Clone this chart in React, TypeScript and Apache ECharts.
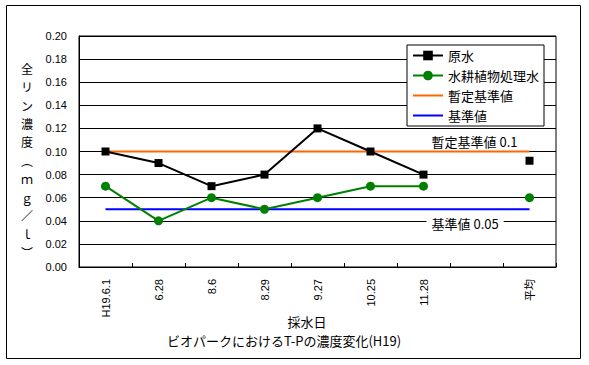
import React, { useEffect, useRef } from "react";
import * as echarts from "echarts";

const categories = ["H19.6.1", "6.28", "8.6", "8.29", "9.27", "10.25", "11.28", "", "平均"];
const rawWater = [0.10, 0.09, 0.07, 0.08, 0.12, 0.10, 0.08, null, 0.092];
const treatedWater = [0.07, 0.04, 0.06, 0.05, 0.06, 0.07, 0.07, null, 0.06];
const provisionalStd = [0.1, 0.1, 0.1, 0.1, 0.1, 0.1, 0.1, 0.1, 0.1];
const standard = [0.05, 0.05, 0.05, 0.05, 0.05, 0.05, 0.05, 0.05, 0.05];
const yTicks = { min: 0, max: 0.2, interval: 0.02 };
const seriesNames = ["原水", "水耕植物処理水", "暫定基準値", "基準値"];
const provisionalLabel = "暫定基準値 0.1";
const standardLabel = "基準値 0.05";
const labelIndex = 7;
const yNameChars = ["全", "リ", "ン", "濃", "度", "︵", "ｍ", "ｇ", "／", "ｌ", "︶"];
const xAxisTitle = "採水日";
const chartTitle = "ビオパークにおけるT-Pの濃度変化(H19)";

const FONT = "'Liberation Sans', 'Noto Sans CJK JP', sans-serif";
const JFONT = "'Noto Sans CJK JP', sans-serif";
const LINE_ICON = "path://M0,0L30,0L30,2L0,2Z";

export default function App() {
  const ref = useRef<HTMLDivElement>(null);
  useEffect(() => {
    if (!ref.current) return;
    const chart = echarts.init(ref.current, null, { renderer: "svg" });
    const labelFor = (text: string, pos: "top" | "bottom", bg: boolean) =>
      (v: any, i: number) =>
        i === labelIndex
          ? {
              value: v,
              label: {
                show: true,
                position: pos,
                align: "left",
                offset: [-50, 0],
                distance: pos === "top" ? 4 : 8,
                formatter: text,
                color: "#000",
                fontSize: 13,
                fontFamily: JFONT,
                backgroundColor: bg ? "#fff" : "transparent",
                padding: [0, 5],
              },
            }
          : v;
    chart.setOption({
      animation: false,
      backgroundColor: "#fff",
      grid: {
        left: 79,
        top: 36,
        right: 33,
        height: 231,
        show: true,
        borderColor: "#000",
        borderWidth: 1,
        backgroundColor: "transparent",
      },
      legend: {
        orient: "vertical",
        left: 407,
        top: 45,
        padding: [4, 5, 4, 5],
        itemGap: 7,
        itemWidth: 30,
        itemHeight: 12,
        backgroundColor: "#fff",
        borderColor: "#000",
        borderWidth: 1,
        borderRadius: 0,
        data: [
          { name: seriesNames[0] },
          { name: seriesNames[1] },
          { name: seriesNames[2], icon: LINE_ICON },
          { name: seriesNames[3], icon: LINE_ICON },
        ],
        textStyle: { fontSize: 13, color: "#000", fontFamily: JFONT },
      },
      xAxis: {
        type: "category",
        data: categories,
        boundaryGap: true,
        axisLine: { lineStyle: { color: "#000", width: 1 } },
        axisTick: { show: true, inside: true, length: 4, lineStyle: { color: "#000" } },
        axisLabel: {
          rotate: 90,
          margin: 12,
          interval: 0,
          color: "#000",
          fontSize: 11,
          fontFamily: FONT,
        },
        splitLine: { show: false },
      },
      yAxis: {
        type: "value",
        min: yTicks.min,
        max: yTicks.max,
        interval: yTicks.interval,
        axisLine: { show: true, lineStyle: { color: "#000" } },
        axisTick: { show: false },
        axisLabel: {
          margin: 12,
          color: "#000",
          fontSize: 11,
          fontFamily: FONT,
          formatter: (v: number) => v.toFixed(2),
        },
        splitLine: { show: true, lineStyle: { color: "#000", width: 1 } },
      },
      series: [
        {
          name: seriesNames[0],
          type: "line",
          data: rawWater,
          connectNulls: false,
          symbol: "rect",
          symbolSize: 8,
          itemStyle: { color: "#000" },
          lineStyle: { color: "#000", width: 2 },
          z: 5,
        },
        {
          name: seriesNames[1],
          type: "line",
          data: treatedWater,
          connectNulls: false,
          symbol: "circle",
          symbolSize: 9,
          itemStyle: { color: "#008000" },
          lineStyle: { color: "#008000", width: 2 },
          z: 4,
        },
        {
          name: seriesNames[2],
          type: "line",
          data: provisionalStd.map(labelFor(provisionalLabel, "top", false)),
          symbol: "circle",
          symbolSize: 0,
          showSymbol: true,
          itemStyle: { color: "#FF6600" },
          lineStyle: { color: "#FF6600", width: 2 },
          z: 3,
        },
        {
          name: seriesNames[3],
          type: "line",
          data: standard.map(labelFor(standardLabel, "bottom", true)),
          symbol: "circle",
          symbolSize: 0,
          showSymbol: true,
          itemStyle: { color: "#0000FF" },
          lineStyle: { color: "#0000FF", width: 2 },
          z: 3,
        },
      ],
      graphic: [
        {
          type: "rect",
          shape: { x: 6.5, y: 5.5, width: 574, height: 353 },
          style: { fill: "none", stroke: "#000", lineWidth: 1 },
          silent: true,
        },
        {
          type: "text",
          x: 27,
          y: 59,
          style: {
            text: yNameChars.join("\n"),
            fontSize: 12,
            lineHeight: 18.4,
            fontFamily: JFONT,
            fill: "#000",
            align: "center",
            verticalAlign: "top",
          },
        },
        {
          type: "text",
          x: 307,
          y: 321,
          style: {
            text: xAxisTitle,
            fontSize: 13,
            fontFamily: JFONT,
            fill: "#000",
            align: "center",
            verticalAlign: "middle",
          },
        },
        {
          type: "text",
          x: 284,
          y: 340,
          style: {
            text: chartTitle,
            fontSize: 13,
            fontFamily: JFONT,
            fill: "#000",
            align: "center",
            verticalAlign: "middle",
          },
        },
      ],
    });
    return () => chart.dispose();
  }, []);
  return (
    <div
      ref={ref}
      style={{ position: "fixed", left: 0, top: 0, width: 589, height: 365 }}
    />
  );
}
